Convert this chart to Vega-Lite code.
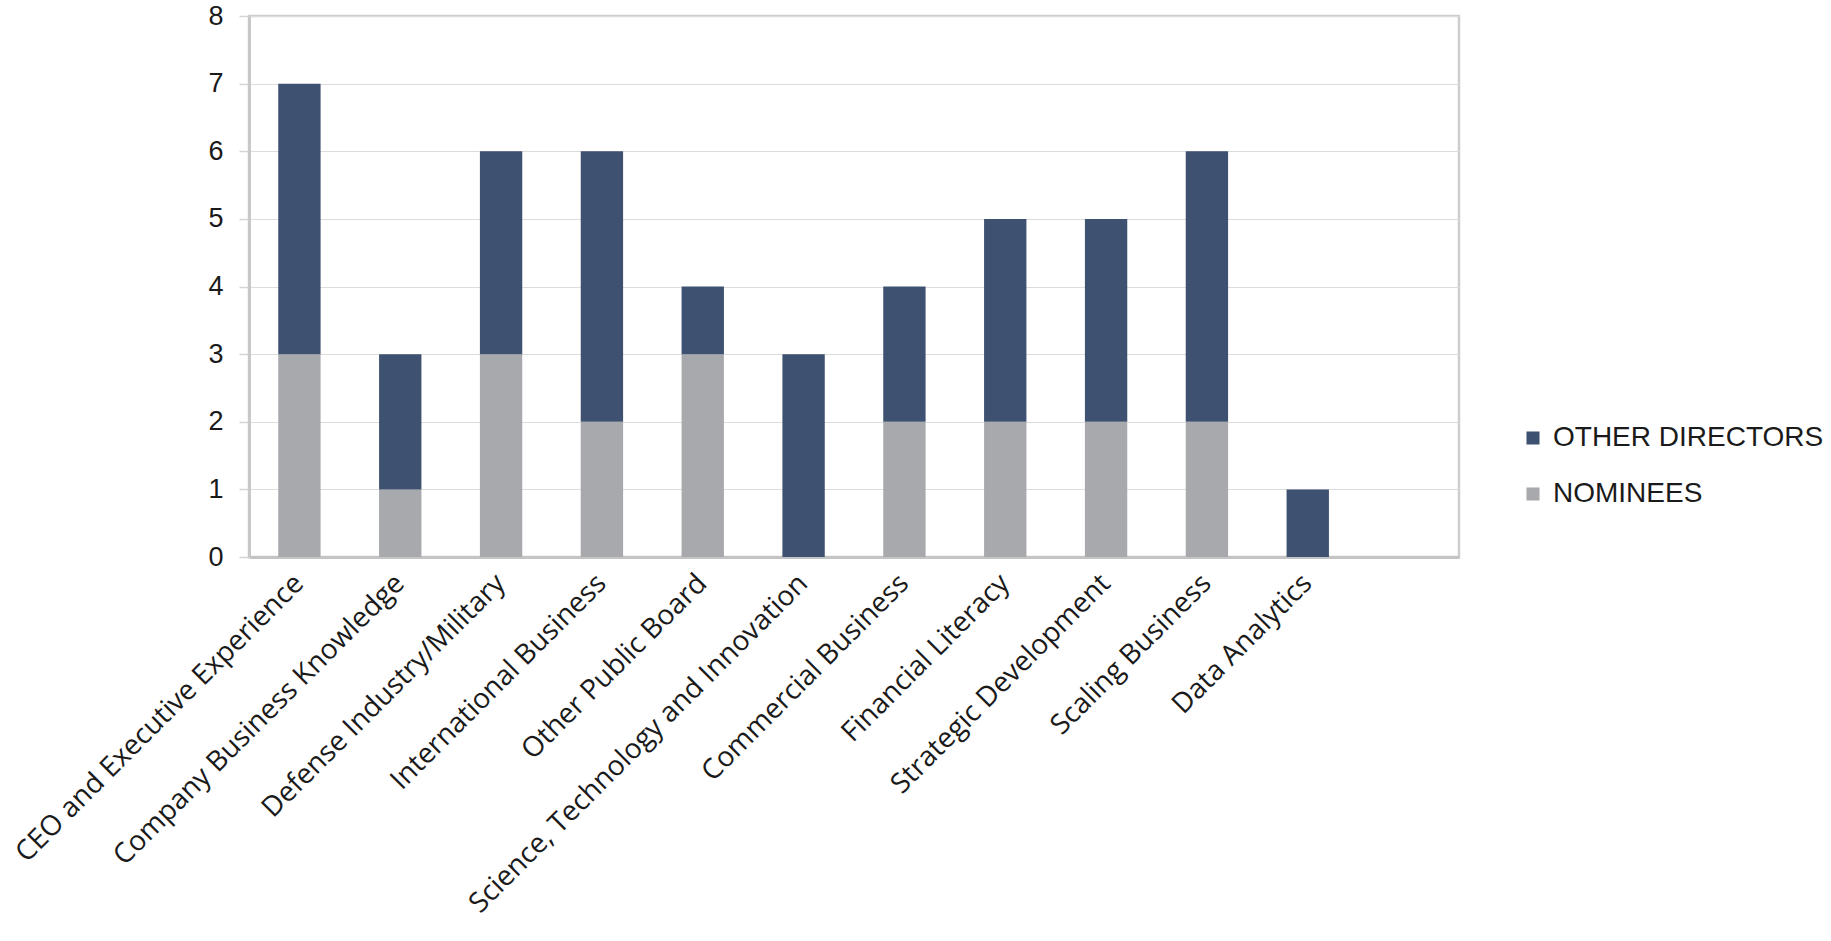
{
  "$schema": "https://vega.github.io/schema/vega-lite/v6.json",
  "autosize": {"type": "none"},
  "width": 1210,
  "height": 541,
  "padding": {"left": 249, "top": 16, "right": 372, "bottom": 384},
  "background": "white",
  "config": {
    "view": {"stroke": "#cdcdcd", "strokeWidth": 2.5},
    "axis": {"labelColor": "#1a1a1a"}
  },
  "data": {
    "values": [
      {"skill": "CEO and Executive Experience", "group": "NOMINEES", "count": 3},
      {"skill": "CEO and Executive Experience", "group": "OTHER DIRECTORS", "count": 4},
      {"skill": "Company Business Knowledge", "group": "NOMINEES", "count": 1},
      {"skill": "Company Business Knowledge", "group": "OTHER DIRECTORS", "count": 2},
      {"skill": "Defense Industry/Military", "group": "NOMINEES", "count": 3},
      {"skill": "Defense Industry/Military", "group": "OTHER DIRECTORS", "count": 3},
      {"skill": "International Business", "group": "NOMINEES", "count": 2},
      {"skill": "International Business", "group": "OTHER DIRECTORS", "count": 4},
      {"skill": "Other Public Board", "group": "NOMINEES", "count": 3},
      {"skill": "Other Public Board", "group": "OTHER DIRECTORS", "count": 1},
      {"skill": "Science, Technology and Innovation", "group": "NOMINEES", "count": 0},
      {"skill": "Science, Technology and Innovation", "group": "OTHER DIRECTORS", "count": 3},
      {"skill": "Commercial Business", "group": "NOMINEES", "count": 2},
      {"skill": "Commercial Business", "group": "OTHER DIRECTORS", "count": 2},
      {"skill": "Financial Literacy", "group": "NOMINEES", "count": 2},
      {"skill": "Financial Literacy", "group": "OTHER DIRECTORS", "count": 3},
      {"skill": "Strategic Development", "group": "NOMINEES", "count": 2},
      {"skill": "Strategic Development", "group": "OTHER DIRECTORS", "count": 3},
      {"skill": "Scaling Business", "group": "NOMINEES", "count": 2},
      {"skill": "Scaling Business", "group": "OTHER DIRECTORS", "count": 4},
      {"skill": "Data Analytics", "group": "NOMINEES", "count": 0},
      {"skill": "Data Analytics", "group": "OTHER DIRECTORS", "count": 1}
    ]
  },
  "mark": {"type": "bar"},
  "encoding": {
    "x": {
      "field": "skill",
      "type": "nominal",
      "sort": null,
      "scale": {
        "domain": ["CEO and Executive Experience", "Company Business Knowledge", "Defense Industry/Military", "International Business", "Other Public Board", "Science, Technology and Innovation", "Commercial Business", "Financial Literacy", "Strategic Development", "Scaling Business", "Data Analytics", " "],
        "paddingInner": 0.58,
        "paddingOuter": 0.29
      },
      "axis": {
        "title": null,
        "labelAngle": -45,
        "labelAlign": "right",
        "labelBaseline": "middle",
        "labelFont": "Open Sans",
        "labelFontSize": 28,
        "labelPadding": 22,
        "labelLimit": 0,
        "ticks": false,
        "domainColor": "#c4c4c4",
        "domainWidth": 3,
        "grid": false
      }
    },
    "y": {
      "field": "count",
      "type": "quantitative",
      "stack": "zero",
      "scale": {"domain": [0, 8], "nice": false},
      "axis": {
        "title": null,
        "values": [0, 1, 2, 3, 4, 5, 6, 7, 8],
        "labelFont": "Liberation Sans",
        "labelFontSize": 27,
        "labelPadding": 16,
        "tickSize": 10,
        "tickColor": "#d4d4d4",
        "tickWidth": 1.5,
        "domainColor": "#c8c8c8",
        "domainWidth": 3,
        "gridColor": "#dcdcdc",
        "gridWidth": 1.2
      }
    },
    "color": {
      "field": "group",
      "type": "nominal",
      "scale": {"domain": ["OTHER DIRECTORS", "NOMINEES"], "range": ["#3e5170", "#a8a9ac"]},
      "legend": {
        "title": null,
        "orient": "none",
        "legendX": 1270,
        "legendY": 408,
        "symbolType": "square",
        "symbolSize": 170,
        "labelFont": "Liberation Sans",
        "labelFontSize": 28,
        "labelColor": "#1a1a1a",
        "labelOffset": 6,
        "rowPadding": 28,
        "labelLimit": 0
      }
    },
    "order": {"field": "group", "sort": "ascending"}
  }
}
